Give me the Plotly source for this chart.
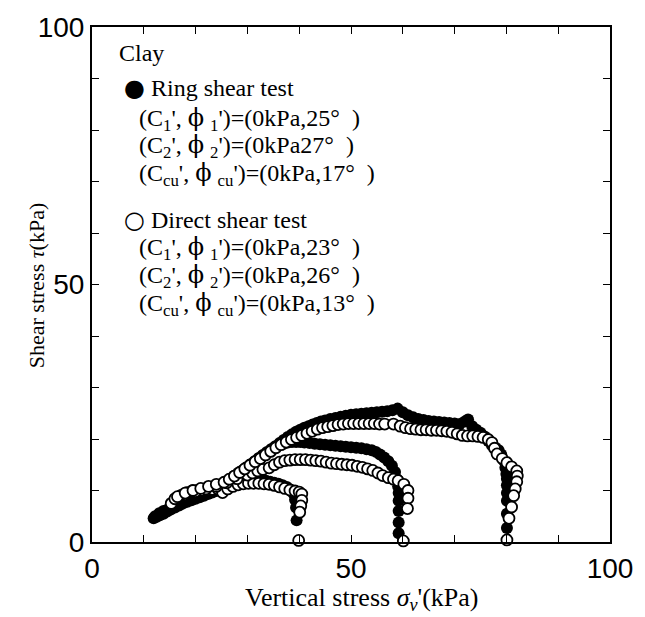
import plotly.graph_objects as go

# ---------------- data ----------------
# Ring shear test (filled circles), three stress paths ending at ~40, ~60, ~80 kPa
ring_a_sigma = [11.9,12.5,13.1,13.8,14.5,15.2,16.0,16.8,17.6,18.4,19.2,20.0,20.8,21.6,22.4,23.2,24.0,24.8,
                25.6,26.4,27.2,28.0,28.8,29.6,30.4,31.2,32.0,32.8,33.6,34.4,35.2,36.0,36.8,37.6,38.3,38.9,
                39.2,39.4,39.5]
ring_a_tau = [4.6,4.9,5.2,5.5,5.9,6.3,6.7,7.1,7.5,7.8,8.1,8.4,8.7,9.0,9.3,9.6,9.9,10.2,
              10.5,10.8,11.1,11.4,11.6,11.8,12.0,12.1,12.1,12.0,11.9,11.7,11.5,11.3,11.0,10.7,10.2,9.4,
              8.2,6.7,4.2]

ring_b_sigma = [13.0,13.8,14.6,15.4,16.2,17.0,17.8,18.6,19.4,20.2,21.0,21.8,22.6,23.4,24.2,25.0,25.8,26.6,
                27.4,28.2,29.0,29.8,30.6,31.4,32.2,33.0,33.8,34.6,35.4,36.2,37.0,37.8,38.6,39.4,40.2,41.0,
                42.0,43.0,44.0,45.0,46.0,47.0,48.0,49.0,50.0,51.0,52.0,53.0,54.0,54.8,55.6,56.4,57.2,57.9,
                58.5,58.9,59.1,59.2,59.2,59.2,59.2,59.2]
ring_b_tau = [5.6,6.0,6.3,6.7,7.0,7.4,7.8,8.1,8.5,8.8,9.2,9.6,9.9,10.3,10.6,11.0,11.6,12.2,
              12.8,13.4,13.9,14.5,15.1,15.7,16.3,16.9,17.5,18.0,18.5,18.9,19.1,19.3,19.4,19.4,19.4,19.3,
              19.2,19.1,19.0,18.9,18.8,18.7,18.6,18.5,18.4,18.3,18.2,18.0,17.8,17.5,17.0,16.4,15.7,14.8,
              13.6,12.2,10.8,9.5,8.0,6.0,3.8,1.7]

ring_c_sigma = [12.2,13.0,13.8,14.6,15.4,16.2,17.0,17.8,18.6,19.4,20.2,21.0,21.8,22.6,23.4,24.2,25.0,25.8,
                26.6,27.4,28.2,29.0,29.8,30.6,31.4,32.2,33.0,33.8,34.6,35.4,36.2,37.0,37.8,38.6,39.4,40.2,
                41.0,41.8,42.6,43.4,44.2,45.0,46.0,47.0,48.0,49.0,50.0,51.0,52.0,53.0,54.0,55.0,56.0,57.0,
                58.0,59.0,60.0,61.0,62.0,63.0,64.0,65.0,66.0,67.0,68.0,69.0,70.0,71.0,72.0,72.6,73.4,74.2,
                75.0,75.8,76.5,77.2,77.9,78.5,79.0,79.5,79.8,80.0,80.1,80.1,80.1,80.1,80.1,80.1]
ring_c_tau = [5.0,5.4,5.8,6.2,6.6,7.0,7.4,7.8,8.2,8.6,9.0,9.3,9.6,9.9,10.2,10.5,10.9,11.4,
              12.0,12.6,13.2,13.8,14.4,15.0,15.6,16.2,16.8,17.4,18.0,18.6,19.2,19.8,20.4,20.9,21.4,21.8,
              22.2,22.5,22.8,23.1,23.4,23.6,23.9,24.1,24.3,24.5,24.7,24.8,24.9,25.0,25.1,25.2,25.3,25.4,
              25.6,25.9,25.2,24.6,24.2,23.9,23.7,23.5,23.4,23.3,23.2,23.1,23.0,22.9,23.4,23.8,22.5,21.8,
              21.2,20.5,19.6,18.8,18.3,17.8,17.0,15.8,14.4,13.2,12.3,11.0,9.5,8.0,5.5,2.7]

# Direct shear test (open circles), three stress paths
direct_a_sigma = [15.3,16.3,17.3,18.3,19.3,20.3,21.3,22.3,23.3,24.3,25.2,26.2,27.2,28.2,29.2,30.2,31.2,32.2,
                  33.2,34.2,35.2,36.2,37.2,38.2,39.2,40.0,40.5,40.5,40.3,40.1,39.9]
direct_a_tau = [7.5,8.4,9.1,9.6,9.9,10.0,10.0,10.1,10.2,10.3,9.6,10.3,10.8,11.1,11.3,11.4,11.4,11.4,
                11.3,11.2,11.0,10.7,10.4,10.1,9.9,9.7,9.3,8.1,7.0,5.8,0.3]

direct_b_sigma = [16.0,18.0,20.0,22.0,24.0,26.0,28.0,30.0,31.0,32.0,33.0,34.2,35.2,36.2,37.2,38.2,39.2,40.2,
                  41.2,42.2,43.2,44.2,45.2,46.2,47.2,48.2,49.2,50.2,51.2,52.2,53.2,54.2,55.2,56.1,57.2,58.2,
                  59.1,60.2,61.0,61.0,60.9,60.1]
direct_b_tau = [8.4,9.2,9.8,10.3,10.8,11.5,12.3,13.0,13.4,13.8,14.1,14.4,15.0,15.5,15.8,15.9,16.0,16.0,
                16.0,15.9,15.8,15.7,15.5,15.3,15.2,15.1,15.0,14.9,14.7,14.5,14.2,13.9,13.4,12.9,12.5,12.2,
                11.9,11.2,10.0,8.5,6.5,0.2]

direct_c_sigma = [16.5,18.0,19.5,21.0,22.5,24.0,25.5,26.5,27.5,28.5,29.5,30.5,31.5,32.5,33.5,34.5,35.5,36.5,
                  37.5,38.5,39.5,40.5,41.5,42.5,43.5,44.5,45.5,46.5,47.5,48.5,49.5,50.5,51.5,52.5,53.5,54.5,
                  55.5,56.5,58.2,59.5,60.5,61.5,62.5,63.5,64.5,65.5,66.5,67.5,68.5,69.5,70.5,71.5,72.5,73.5,
                  74.5,75.5,76.5,77.2,77.7,78.2,79.2,80.1,81.0,82.0,82.1,82.0,81.7,81.4,81.0,80.5,80.1]
direct_c_tau = [8.8,9.5,10.0,10.4,10.8,11.2,11.6,12.2,12.8,13.5,14.2,14.9,15.6,16.2,16.9,17.6,18.3,18.9,
                19.4,19.9,20.3,20.7,21.1,21.5,21.9,22.2,22.4,22.6,22.8,22.9,23.0,23.0,23.0,23.0,23.0,23.0,
                22.9,22.9,22.9,22.5,22.2,22.0,21.9,21.8,21.8,21.7,21.7,21.6,21.5,21.3,21.0,20.7,20.6,20.6,
                20.5,20.3,19.9,19.3,18.2,17.1,16.2,15.4,14.6,13.8,12.8,11.7,10.3,9.0,6.8,4.6,0.4]

axis_ticklabels = [0, 50, 100]

PHI = "<span style='font-family:DejaVu Serif'>ϕ</span>"
legend_lines = [
    ("Clay", 48),
    ("<span style='font-family:DejaVu Sans'>●</span> Ring shear test", 84),
    ("(C<sub>1</sub>', " + PHI + " <sub>1</sub>')=(0kPa,25°  )", 115),
    ("(C<sub>2</sub>', " + PHI + " <sub>2</sub>')=(0kPa27°  )", 143),
    ("(C<sub>cu</sub>', " + PHI + " <sub>cu</sub>')=(0kPa,17°  )", 171),
    ("<span style='font-family:DejaVu Sans'>○</span> Direct shear test", 217),
    ("(C<sub>1</sub>', " + PHI + " <sub>1</sub>')=(0kPa,23°  )", 246),
    ("(C<sub>2</sub>', " + PHI + " <sub>2</sub>')=(0kPa,26°  )", 274),
    ("(C<sub>cu</sub>', " + PHI + " <sub>cu</sub>')=(0kPa,13°  )", 302),
]

# ---------------- figure ----------------
W, H = 645, 617
L, R, T, B = 92, 28, 22, 75
PW, PH = W - L - R, H - T - B

ring_sigma = ring_a_sigma + ring_b_sigma + ring_c_sigma
ring_tau = ring_a_tau + ring_b_tau + ring_c_tau
direct_sigma = direct_a_sigma + direct_b_sigma + direct_c_sigma
direct_tau = direct_a_tau + direct_b_tau + direct_c_tau

fig = go.Figure()
fig.add_trace(go.Scatter(x=ring_sigma, y=ring_tau, mode="markers", cliponaxis=False,
                         marker=dict(size=12, color="black", line=dict(width=0)),
                         name="Ring shear test", showlegend=False))
fig.add_trace(go.Scatter(x=direct_sigma, y=direct_tau, mode="markers", cliponaxis=False,
                         marker=dict(size=11, color="white", line=dict(width=1.8, color="black")),
                         name="Direct shear test", showlegend=False))

axis_common = dict(
    range=[0, 100], tickvals=axis_ticklabels, ticktext=[str(v) for v in axis_ticklabels],
    ticks="inside", ticklen=7, tickwidth=1.3, tickcolor="black",
    minor=dict(dtick=10, ticks="inside", ticklen=7, tickwidth=1.3, tickcolor="black"),
    showline=True, linecolor="black", linewidth=2, mirror="ticks",
    showgrid=False, zeroline=False,
    tickfont=dict(family="Liberation Sans, Arial", size=28, color="black"),
)
fig.update_xaxes(**axis_common)
fig.update_yaxes(**axis_common)

SERIF = "Liberation Serif, Times New Roman"
ann = []
for i, (txt, py) in enumerate(legend_lines):
    px = 117 if i == 0 else (122 if i in (1, 5) else 138)
    ann.append(dict(text=txt, xref="paper", yref="paper",
                    x=(px - L) / PW, y=(H - B - py) / PH, xanchor="left", yanchor="middle",
                    showarrow=False, font=dict(family=SERIF, size=24, color="black")))
ann.append(dict(text="Shear stress <i>τ</i>(kPa)", xref="paper", yref="paper",
                x=(36 - L) / PW, y=(H - B - 283) / PH, textangle=-90, xanchor="center", yanchor="middle",
                showarrow=False, font=dict(family=SERIF, size=22, color="black")))
ann.append(dict(text="Vertical stress <i>σ<sub>v</sub></i>'(kPa)", xref="paper", yref="paper",
                x=(366 - L) / PW, y=(H - B - 600) / PH, xanchor="center", yanchor="middle",
                showarrow=False, font=dict(family=SERIF, size=26, color="black")))

fig.update_layout(width=W, height=H, margin=dict(l=L, r=R, t=T, b=B),
                  paper_bgcolor="white", plot_bgcolor="white", annotations=ann)

fig.write_html("out.html")
